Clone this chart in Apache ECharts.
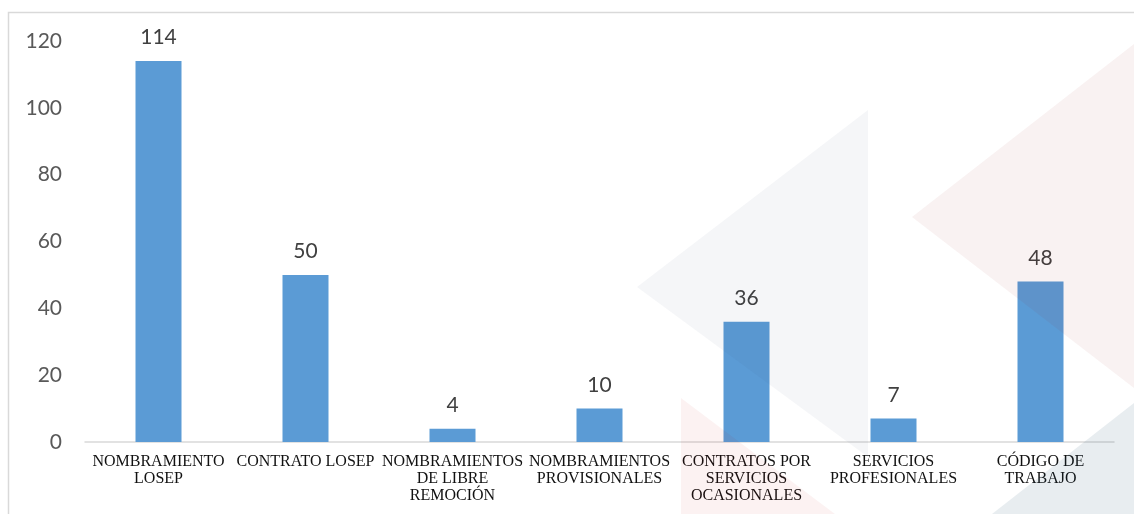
<!DOCTYPE html>
<html>
<head>
<meta charset="utf-8">
<script src="https://cdn.jsdelivr.net/npm/echarts@6/dist/echarts.min.js"></script>
<style>html,body{margin:0;padding:0;background:#fff;}#c{width:1134px;height:514px;}</style>
</head>
<body>
<div id="c"></div>
<script>
const categories = [
  "NOMBRAMIENTO\nLOSEP",
  "CONTRATO LOSEP",
  "NOMBRAMIENTOS\nDE LIBRE\nREMOCIÓN",
  "NOMBRAMIENTOS\nPROVISIONALES",
  "CONTRATOS POR\nSERVICIOS\nOCASIONALES",
  "SERVICIOS\nPROFESIONALES",
  "CÓDIGO DE\nTRABAJO"
];
const values = [114, 50, 4, 10, 36, 7, 48];
const yTicks = { min: 0, max: 120, interval: 20 };

const chart = echarts.init(document.getElementById('c'));
chart.setOption({
  animation: false,
  backgroundColor: '#ffffff',
  grid: { left: 85, right: 20, top: 41, bottom: 72, containLabel: false },
  xAxis: {
    type: 'category',
    data: categories,
    axisLine: { lineStyle: { color: '#d9d9d9', width: 1.5 } },
    axisTick: { show: false },
    axisLabel: {
      interval: 0,
      color: '#111111',
      fontFamily: 'Liberation Serif',
      fontSize: 16,
      lineHeight: 17,
      margin: 11
    }
  },
  yAxis: {
    type: 'value',
    min: yTicks.min, max: yTicks.max, interval: yTicks.interval,
    axisLine: { show: false },
    axisTick: { show: false },
    splitLine: { show: false },
    axisLabel: { color: '#595959', fontFamily: 'Lato', fontSize: 21, margin: 23 }
  },
  series: [{
    type: 'bar',
    data: values,
    barWidth: 46,
    itemStyle: { color: '#5b9bd5' },
    label: {
      show: true, position: 'top', distance: 13,
      color: '#404040', fontFamily: 'Lato', fontSize: 21
    },
    z: 2
  }],
  graphic: [
    { type: 'rect', shape: { x: 8.5, y: 12.5, width: 1140, height: 520 }, style: { fill: 'none', stroke: '#d9d9d9', lineWidth: 1.5 }, z: 0, silent: true },
    { type: 'polygon', shape: { points: [[637, 287], [868, 110], [868, 457]] }, style: { fill: 'rgba(60,80,110,0.05)' }, z: 100, silent: true },
    { type: 'polygon', shape: { points: [[912, 217], [1134, 44], [1134, 388]] }, style: { fill: 'rgba(155,38,38,0.06)' }, z: 100, silent: true },
    { type: 'polygon', shape: { points: [[681, 398], [835, 514], [681, 514]] }, style: { fill: 'rgba(200,0,0,0.05)' }, z: 100, silent: true },
    { type: 'polygon', shape: { points: [[992, 514], [1134, 403], [1134, 514]] }, style: { fill: 'rgba(25,75,105,0.1)' }, z: 100, silent: true }
  ]
});
</script>
</body>
</html>
